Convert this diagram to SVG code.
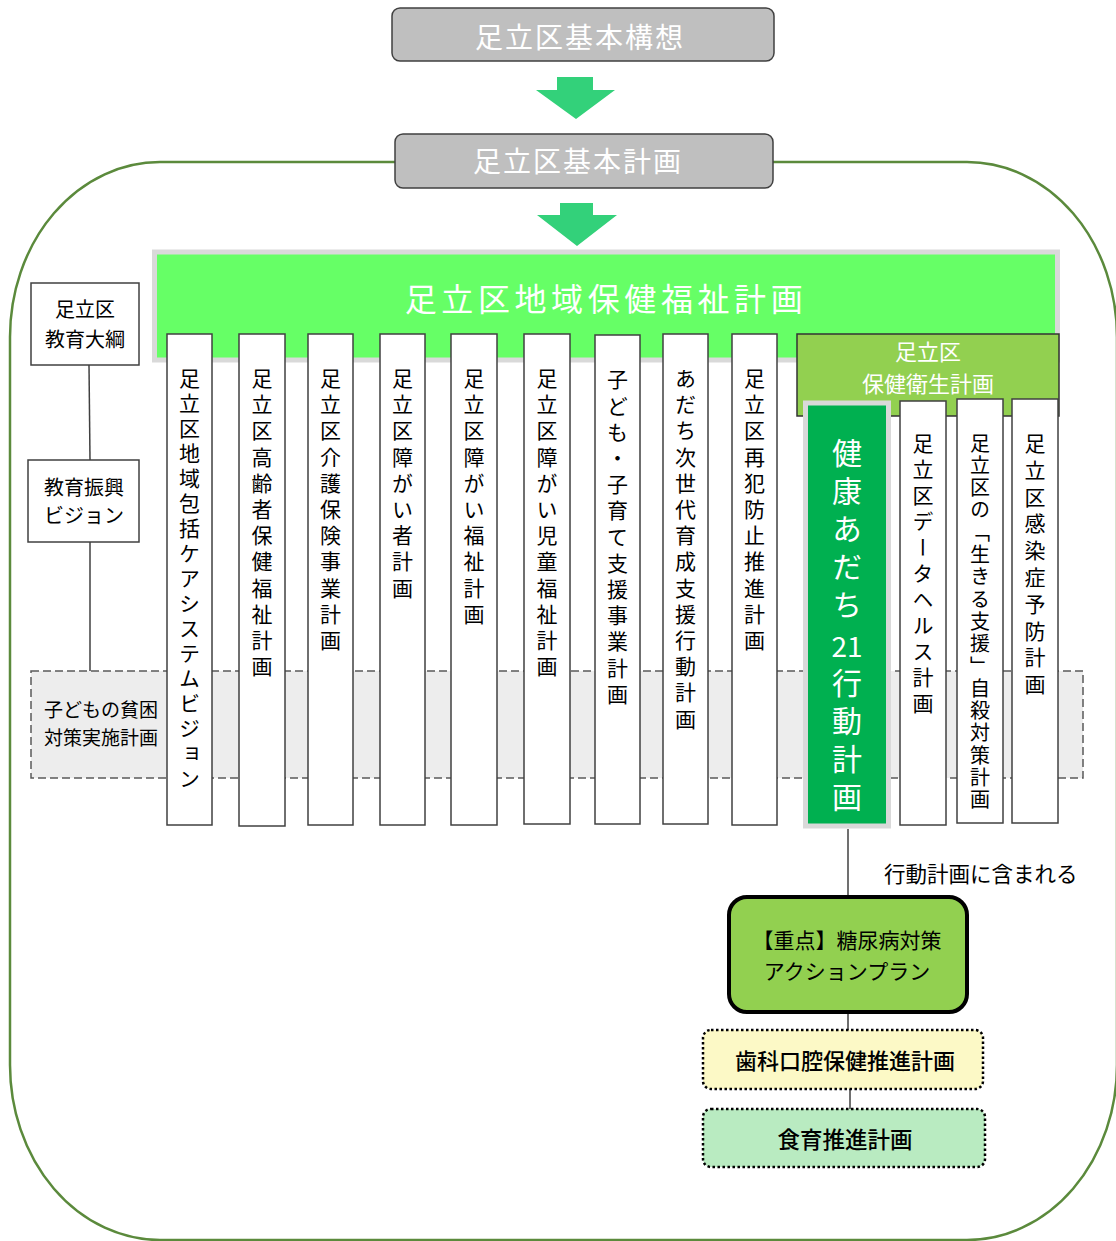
<svg xmlns="http://www.w3.org/2000/svg" width="1116" height="1241" viewBox="0 0 1116 1241">
<defs>
<style>
text { font-family: "Noto Sans CJK JP", "Noto Sans", sans-serif; fill: #000; }
.top { fill: #BFBFBF; stroke: #404040; stroke-width: 1.5; }
.topt { fill: #FFFFFF; font-size: 28px; letter-spacing: 2px; text-anchor: middle; dominant-baseline: central; }
.arrow { fill: #33D17A; }
.col { fill: #FFFFFF; stroke: #404040; stroke-width: 1.5; }
.v { writing-mode: vertical-rl; font-size: 21px; letter-spacing: 5.2px; }
.box { fill: #FFFFFF; stroke: #404040; stroke-width: 1.5; }
.lbl { font-size: 20px; text-anchor: middle; dominant-baseline: central; }
.conn { stroke: #404040; stroke-width: 1.5; fill: none; }
.gv { fill: #FFFFFF; writing-mode: vertical-rl; font-size: 30px; letter-spacing: 8px; }
.dot { stroke: #000; stroke-width: 2.5; stroke-dasharray: 2.5 2.5; }
</style>
</defs>

<g id="frame">
<rect x="10" y="162" width="1107" height="1078" rx="150" ry="175" fill="none" stroke="#5B8A3C" stroke-width="2.5"/>
</g>

<g id="connectors">
<line class="conn" x1="89" y1="365" x2="90" y2="460"/>
<line class="conn" x1="90" y1="542" x2="90" y2="671"/>
<line class="conn" x1="848" y1="829" x2="848" y2="897"/>
<line class="conn" x1="848" y1="1012" x2="848" y2="1030"/>
<line class="conn" x1="850" y1="1089" x2="850" y2="1109"/>
<polygon class="arrow" points="557,77 593,77 593,90 615,90 576,119 536,90 557,90"/>
<polygon class="arrow" points="560,203 593,203 593,215 617,215 577,246 537,215 560,215"/>
</g>

<g id="kihon-koso">
<rect class="top" x="392" y="8" width="382" height="53" rx="8"/>
<text class="topt" x="580" y="36">足立区基本構想</text>
</g>

<g id="kihon-keikaku">
<rect class="top" x="395" y="134" width="378" height="54" rx="8"/>
<text class="topt" x="578" y="160">足立区基本計画</text>
</g>

<g id="chiiki-hoken">
<rect x="154.5" y="252" width="903" height="108" fill="#66FF66" stroke="#D9D9D9" stroke-width="5"/>
<text x="606" y="297" style="fill:#FFFFFF;font-size:32px;letter-spacing:4.6px;text-anchor:middle;dominant-baseline:central">足立区地域保健福祉計画</text>
</g>

<g id="kyoiku-taiko">
<rect class="box" x="31" y="283" width="108" height="82"/>
<text class="lbl" x="85" y="308">足立区</text>
<text class="lbl" x="85" y="338">教育大綱</text>
</g>

<g id="kyoiku-vision">
<rect class="box" x="28" y="460" width="111" height="82"/>
<text class="lbl" x="84" y="486">教育振興</text>
<text class="lbl" x="84" y="514">ビジョン</text>
</g>

<g id="kodomo-hinkon">
<rect x="31" y="671" width="1052" height="107" fill="#EDEDED" stroke="#595959" stroke-width="1.5" stroke-dasharray="8 4"/>
<text x="101" y="708" style="font-size:19px;text-anchor:middle;dominant-baseline:central">子どもの貧困</text>
<text x="101" y="736" style="font-size:19px;text-anchor:middle;dominant-baseline:central">対策実施計画</text>
</g>

<g id="col1"><rect class="col" x="167" y="334" width="45" height="491"/><text class="v" x="189.5" y="367.5" style="letter-spacing:4px">足立区地域包括ケアシステムビジョン</text></g>
<g id="col2"><rect class="col" x="239" y="334" width="46" height="492"/><text class="v" x="262" y="367.5">足立区高齢者保健福祉計画</text></g>
<g id="col3"><rect class="col" x="308" y="334" width="45" height="491"/><text class="v" x="330.5" y="367.5">足立区介護保険事業計画</text></g>
<g id="col4"><rect class="col" x="380" y="334" width="45" height="491"/><text class="v" x="402.5" y="367.5">足立区障がい者計画</text></g>
<g id="col5"><rect class="col" x="451" y="334" width="46" height="491"/><text class="v" x="474" y="367.5">足立区障がい福祉計画</text></g>
<g id="col6"><rect class="col" x="524" y="334" width="46" height="490"/><text class="v" x="547" y="367.5">足立区障がい児童福祉計画</text></g>
<g id="col7"><rect class="col" x="595" y="335" width="45" height="489"/><text class="v" x="617.5" y="369">子ども・子育て支援事業計画</text></g>
<g id="col8"><rect class="col" x="663" y="334" width="45" height="490"/><text class="v" x="685.5" y="367.5">あだち次世代育成支援行動計画</text></g>
<g id="col9"><rect class="col" x="732" y="334" width="45" height="491"/><text class="v" x="754.5" y="367.5">足立区再犯防止推進計画</text></g>

<g id="hoken-eisei">
<rect x="797" y="334" width="262" height="82" fill="#92D050" stroke="#333333" stroke-width="1.5"/>
<text x="928" y="350" style="fill:#FFFFFF;font-size:22px;text-anchor:middle;dominant-baseline:central">足立区</text>
<text x="928" y="382" style="fill:#FFFFFF;font-size:22px;text-anchor:middle;dominant-baseline:central">保健衛生計画</text>
</g>

<g id="kenko-adachi21">
<rect x="805.5" y="403" width="83" height="423" fill="#00B050" stroke="#D9D9D9" stroke-width="5"/>
<text class="gv" x="847" y="438">健康あだち</text>
<text x="847" y="645" style="fill:#FFFFFF;font-size:28px;text-anchor:middle;dominant-baseline:central">21</text>
<text class="gv" x="847" y="668">行動計画</text>
</g>

<g id="col10"><rect class="col" x="900" y="401" width="46" height="424"/><text class="v" x="923" y="432.5" style="letter-spacing:5px">足立区データヘルス計画</text></g>
<g id="col11"><rect class="col" x="957" y="399" width="46" height="424"/><text class="v" x="980" y="433" style="font-size:20px;letter-spacing:2.3px">足立区の「生きる支援」自殺対策計画</text></g>
<g id="col12"><rect class="col" x="1012" y="399" width="46" height="424"/><text class="v" x="1035" y="432.5" style="letter-spacing:5.8px">足立区感染症予防計画</text></g>

<g id="label-included">
<text x="884" y="872" style="font-size:21.5px;dominant-baseline:central">行動計画に含まれる</text>
</g>

<g id="tonyobyo">
<rect x="729" y="897" width="238" height="115" rx="18" fill="#92D050" stroke="#000" stroke-width="4"/>
<text x="847" y="939" style="font-size:21px;text-anchor:middle;dominant-baseline:central">【重点】糖尿病対策</text>
<text x="847" y="970" style="font-size:21px;text-anchor:middle;dominant-baseline:central">アクションプラン</text>
</g>

<g id="shika">
<rect class="dot" x="703" y="1030" width="280" height="59" rx="8" fill="#FCF9C6"/>
<text x="845" y="1059" style="font-size:22px;font-weight:500;text-anchor:middle;dominant-baseline:central">歯科口腔保健推進計画</text>
</g>

<g id="shokuiku">
<rect class="dot" x="703" y="1109" width="282" height="58" rx="8" fill="#B9EBC1"/>
<text x="845" y="1138" style="font-size:22.5px;font-weight:500;text-anchor:middle;dominant-baseline:central">食育推進計画</text>
</g>
</svg>
